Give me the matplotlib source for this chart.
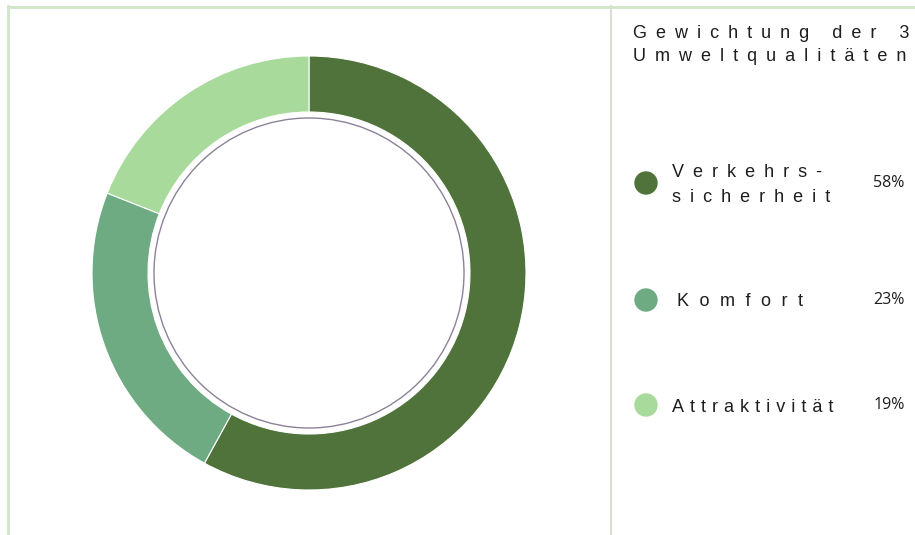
import matplotlib.pyplot as plt
from matplotlib.patches import Circle
from matplotlib.lines import Line2D

# data
labels = ['Verkehrs-\nsicherheit', 'Komfort', 'Attraktivität']
shares = [58, 23, 19]
colors = ['#4f733a', '#6fab82', '#a8da9b']
title = 'Gewichtung der 3\nUmweltqualitäten'

FONT = ['Liberation Sans', 'DejaVu Sans']


def spaced(s, gap='\u2002'):
    # wide letter spacing like the original
    return gap.join(s)


def put_lines(ax, x, y_center, text, gap, pitch=24.5):
    lines = text.split('\n')
    n = len(lines)
    for i, line in enumerate(lines):
        # baseline of each line, in image pixels from top
        yb = y_center + (i - (n - 1) / 2) * pitch + 6.5
        ax.text(x, H - yb, spaced(line, gap), fontsize=13, family=FONT,
                color='#1e1e1e', va='baseline', ha='left')


W, H = 915, 535
fig = plt.figure(figsize=(W / 100, H / 100), dpi=100)
ax = fig.add_axes([0, 0, 1, 1])

# donut
cx, cy, r = 309, H - 273, 217
ax.pie(shares, colors=colors, startangle=90, counterclock=False,
       center=(cx, cy), radius=r, frame=True,
       wedgeprops=dict(width=r - 161, edgecolor='white', linewidth=0.8))
ax.set_xlim(0, W)
ax.set_ylim(0, H)
ax.set_aspect('equal')
ax.axis('off')
ax.add_patch(Circle((cx, cy), 155, fill=False, edgecolor='#8c8298', lw=1))

# frame lines
ax.add_line(Line2D([7.5, 7.5], [0, H - 6], color='#cfe6c8', lw=2))
ax.add_line(Line2D([7.5, W], [H - 6.5, H - 6.5], color='#cfe6c8', lw=2))
ax.add_line(Line2D([611, 611], [0, H - 6], color='#dcdcd6', lw=1.5))

# title
put_lines(ax, 633, 43, title, '\u2002', pitch=23.5)

# legend
ys = [183, 300, 405]
gaps = ['\u2002', '\u2002\u200a', '\u2004']
for lab, val, col, y, g in zip(labels, shares, colors, ys, gaps):
    ax.add_patch(Circle((646, H - y), 11, color=col))
    x0 = 677 if lab == 'Komfort' else 672
    put_lines(ax, x0, y, lab, g)
    ax.text(889, H - y, f'{val}%', fontsize=11.5, family='Open Sans',
            color='#1e1e1e', va='center', ha='center')

fig.savefig('out.png', dpi=100, facecolor='white')
